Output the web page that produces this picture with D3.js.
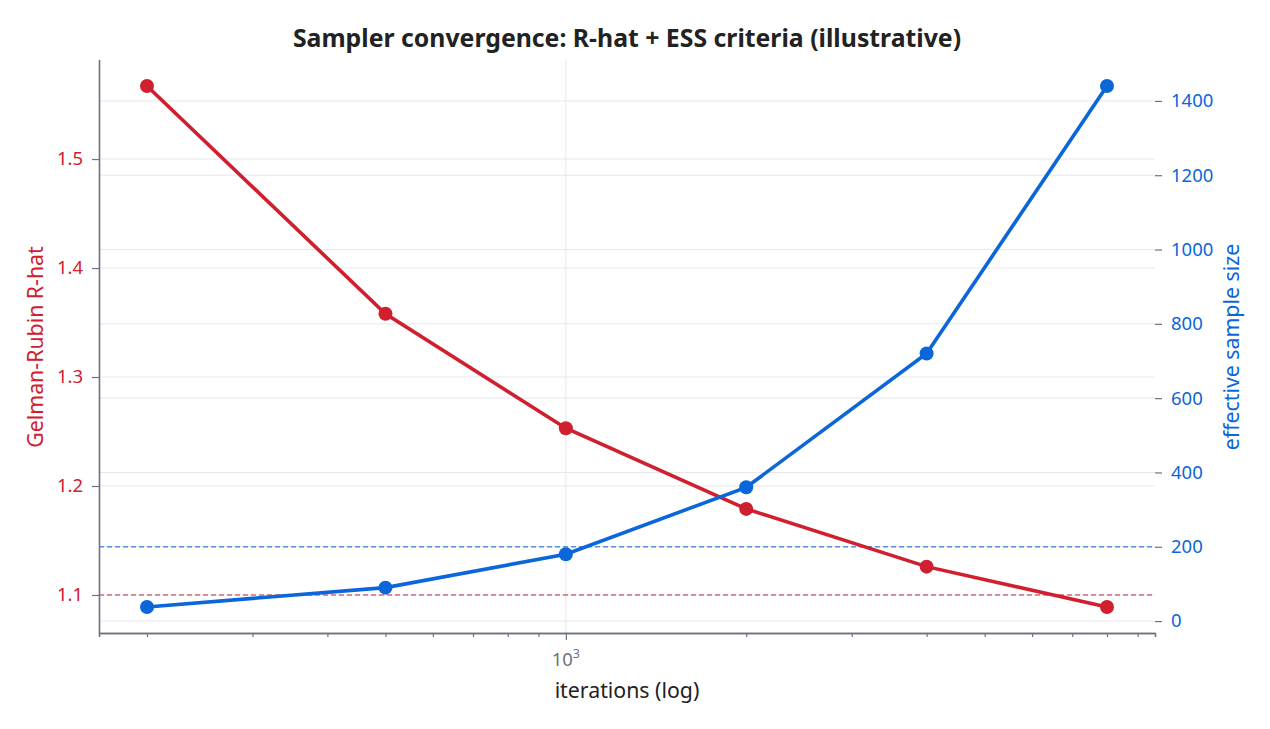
<!DOCTYPE html>
<html><head><meta charset="utf-8">
<script src="https://cdn.jsdelivr.net/npm/d3@7"></script>
<style>body{margin:0;background:#fff;} text{font-family:"Noto Sans",sans-serif;}</style>
</head><body>
<svg id="c" width="1270" height="729"></svg>
<script>
const iterations = [200, 500, 1000, 2000, 4000, 8000];
const rhat = [1.567, 1.358, 1.253, 1.179, 1.126, 1.089];
const ess = [38, 90, 180, 360, 720, 1440];
const rhatTicks = [1.1, 1.2, 1.3, 1.4, 1.5];
const essTicks = [0, 200, 400, 600, 800, 1000, 1200, 1400];
const rhatThreshold = 1.1;
const essThreshold = 200;

const RED = "#d0202f", BLUE = "#0b66d9", AX = "#6b7280", GRID = "#e5e7eb";
const svg = d3.select("#c");
const L = 99, R = 1155, T = 60, B = 633;

function padLog(arr){const a=Math.log10(d3.min(arr)),b=Math.log10(d3.max(arr)),m=(b-a)*0.05;return [10**(a-m),10**(b+m)];}
function pad(arr){const a=d3.min(arr),b=d3.max(arr),m=(b-a)*0.05;return [a-m,b+m];}

const x = d3.scaleLog().domain(padLog(iterations)).range([L, R]);
const yL = d3.scaleLinear().domain(pad(rhat)).range([B, T]);
const yR = d3.scaleLinear().domain(pad(ess)).range([B, T]);

// grid
const g = svg.append("g");
g.selectAll(".gl").data(rhatTicks).join("line").attr("x1",L).attr("x2",R)
  .attr("y1",d=>yL(d)).attr("y2",d=>yL(d)).attr("stroke",GRID).attr("stroke-width",1);
g.selectAll(".gr").data(essTicks).join("line").attr("x1",L).attr("x2",R)
  .attr("y1",d=>yR(d)).attr("y2",d=>yR(d)).attr("stroke",GRID).attr("stroke-width",1);
g.append("line").attr("x1",x(1000)).attr("x2",x(1000)).attr("y1",T).attr("y2",B).attr("stroke",GRID);

// thresholds
svg.append("line").attr("x1",L).attr("x2",R).attr("y1",yL(rhatThreshold)).attr("y2",yL(rhatThreshold))
  .attr("stroke",RED).attr("stroke-opacity",0.65).attr("stroke-width",1.4).attr("stroke-dasharray","5,3");
svg.append("line").attr("x1",L).attr("x2",R).attr("y1",yR(essThreshold)).attr("y2",yR(essThreshold))
  .attr("stroke","#3b82e0").attr("stroke-opacity",0.85).attr("stroke-width",1.4).attr("stroke-dasharray","5,3");

// lines
const lineL = d3.line().x((d,i)=>x(iterations[i])).y(d=>yL(d));
const lineR = d3.line().x((d,i)=>x(iterations[i])).y(d=>yR(d));
svg.append("path").attr("d",lineL(rhat)).attr("fill","none").attr("stroke",RED).attr("stroke-width",3.6);
svg.selectAll(".pl").data(rhat).join("circle").attr("cx",(d,i)=>x(iterations[i])).attr("cy",d=>yL(d)).attr("r",7).attr("fill",RED);
svg.append("path").attr("d",lineR(ess)).attr("fill","none").attr("stroke",BLUE).attr("stroke-width",3.6);
svg.selectAll(".pr").data(ess).join("circle").attr("cx",(d,i)=>x(iterations[i])).attr("cy",d=>yR(d)).attr("r",7).attr("fill",BLUE);

// axes
const ax = svg.append("g").attr("transform",`translate(0,${B})`)
  .call(d3.axisBottom(x).tickValues([1000]).tickSize(7).tickFormat(()=>""));
const minor = [];
for (let d=100; d<=10000; d*=10) for (let k=2;k<=9;k++){const v=k*d; if(v>=x.domain()[0]&&v<=x.domain()[1]&&v!==1000) minor.push(v);}
svg.append("g").attr("transform",`translate(0,${B})`)
  .call(d3.axisBottom(x).tickValues(minor).tickSize(4).tickFormat(()=>""));
svg.append("text").attr("x",x(1000)).attr("y",666).attr("text-anchor","middle").attr("fill",AX).style("font-size","18.5px")
  .text("10").append("tspan").attr("dy",-8).style("font-size","12.5px").text("3");

const al = svg.append("g").attr("transform",`translate(${L},0)`)
  .call(d3.axisLeft(yL).tickValues(rhatTicks).tickSize(7).tickPadding(9).tickFormat(d3.format(".1f")));
al.selectAll("text").attr("fill",RED).style("font-size","18.5px").style("font-family","Noto Sans");
const ar = svg.append("g").attr("transform",`translate(${R},0)`)
  .call(d3.axisRight(yR).tickValues(essTicks).tickSize(7).tickPadding(9).tickFormat(d3.format("d")));
ar.selectAll("text").attr("fill",BLUE).style("font-size","18.5px").style("font-family","Noto Sans");
ar.select(".domain").remove();

svg.selectAll(".tick line").attr("stroke",AX).attr("stroke-width",1.2);
svg.selectAll(".domain").attr("stroke",AX).attr("stroke-width",1.6);
ax.select(".domain").attr("d",`M${L},0.5H${R}`);
al.select(".domain").attr("d",`M0.5,${T}V${B}`);

// labels
svg.append("text").attr("x",627).attr("y",47).attr("text-anchor","middle").style("font-size","24.8px").attr("font-weight","bold")
  .attr("fill","#222").text("Sampler convergence: R-hat + ESS criteria (illustrative)");
svg.append("text").attr("x",627).attr("y",698).attr("text-anchor","middle").style("font-size","21.3px").attr("fill","#222").text("iterations (log)");
svg.append("text").attr("transform","translate(43,347) rotate(-90)").attr("text-anchor","middle").style("font-size","21.3px").attr("fill",RED).text("Gelman-Rubin R-hat");
svg.append("text").attr("transform","translate(1239,347) rotate(-90)").attr("text-anchor","middle").style("font-size","21.3px").attr("fill",BLUE).text("effective sample size");
</script>
</body></html>
